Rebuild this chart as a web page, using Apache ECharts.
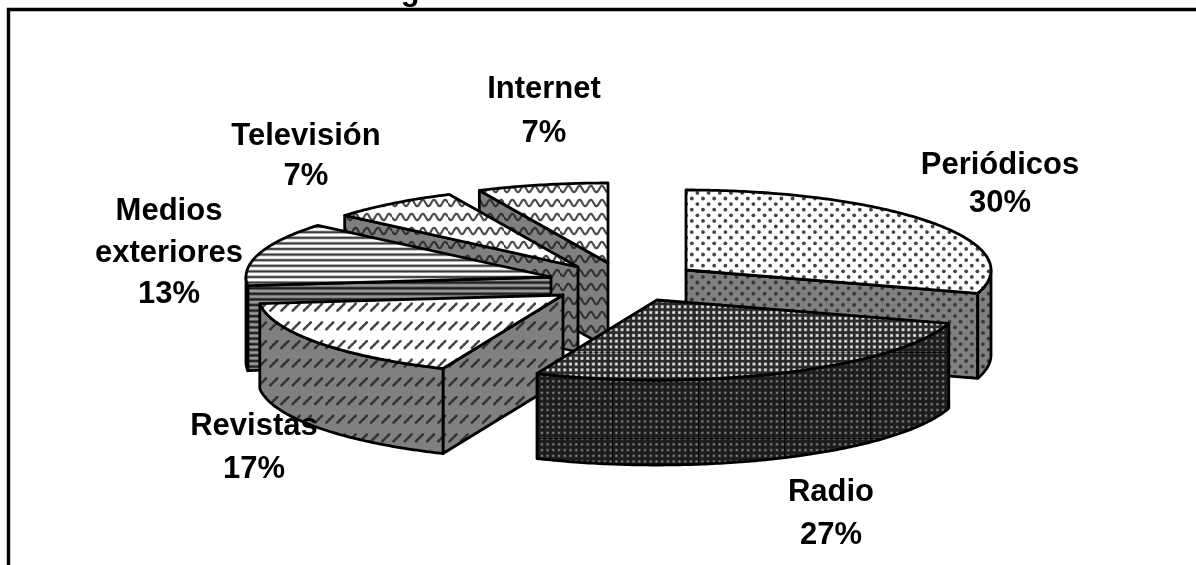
<!DOCTYPE html>
<html>
<head>
<meta charset="utf-8">
<style>html,body{margin:0;padding:0;background:#fff}#chart{width:1196px;height:565px}</style>
<script src="https://cdn.jsdelivr.net/npm/echarts@6/dist/echarts.min.js"></script>
</head>
<body>
<div id="chart"></div>
<script>
// Media shares, clockwise from twelve o'clock
const categories = ['Periódicos', 'Radio', 'Revistas', 'Medios exteriores', 'Televisión', 'Internet'];
const shares = [30, 27, 17, 13, 7, 7];

// Label text for each slice, with its own line breaks
const labelNames = ['Periódicos', 'Radio', 'Revistas', 'Medios\nexteriores', 'Televisión', 'Internet'];

// Exploded position of each slice's apex on the top surface
const apexes = [[686, 270], [657, 300], [563, 295], [551, 277], [578, 267], [608, 263]];
const labelSpots = [
  { x: 1000, y: 184, lh: 38 }, { x: 831, y: 514, lh: 43 }, { x: 254, y: 448, lh: 43 },
  { x: 169, y: 253, lh: 41.5 }, { x: 306, y: 156, lh: 40 }, { x: 544, y: 111, lh: 44 }
];
// Slices are painted from the back of the pie to the front
const paintOrder = [5, 4, 3, 0, 2, 1];
const RX = 305, RY = 80, DEPTH = 85;

function tile(w, h, paint) {
  const c = document.createElement('canvas');
  c.width = w; c.height = h;
  paint(c.getContext('2d'), w, h);
  return { image: c, repeat: 'repeat' };
}
function dots(bg, fg) {
  return tile(56, 56, (g) => {
    g.fillStyle = bg; g.fillRect(0, 0, 56, 56);
    g.fillStyle = fg;
    for (let r = 0; r < 10; r++) for (let k = 0; k < 5; k++) {
      g.beginPath();
      g.arc(((k + (r % 2) / 2) * 11.2 + 3) % 56, r * 5.6 + 2.5, 1.9, 0, 7);
      g.fill();
    }
  });
}
function waves(bg, fg) {
  return tile(56, 56, (g) => {
    g.fillStyle = bg; g.fillRect(0, 0, 56, 56);
    g.strokeStyle = fg; g.lineWidth = 2.2;
    for (let r = 0; r < 4; r++) {
      g.beginPath();
      for (let x = 0; x <= 56; x += 0.5) {
        const y = r * 14 + 7 + 3.2 * Math.sin(x / 11.2 * 2 * Math.PI);
        x ? g.lineTo(x, y) : g.moveTo(x, y);
      }
      g.stroke();
    }
  });
}
function stripes(light, mid, dark) {
  return tile(8, 56, (g) => {
    g.fillStyle = light; g.fillRect(0, 0, 8, 56);
    for (let r = 0; r < 10; r++) {
      g.fillStyle = mid; g.fillRect(0, r * 5.6 + 0.9, 8, 3.4);
      g.fillStyle = dark; g.fillRect(0, r * 5.6 + 1.7, 8, 1.8);
    }
  });
}
function dashes(bg, fg) {
  return tile(56, 56, (g) => {
    g.fillStyle = bg; g.fillRect(0, 0, 56, 56);
    g.strokeStyle = fg; g.lineWidth = 2.6; g.lineCap = 'round';
    g.setLineDash([2.2, 1.6]);
    for (let r = 0; r < 3; r++) for (let k = 0; k < 5; k++) {
      const x = k * 11.2 + 1.5, y = r * 18.67 + 12;
      g.beginPath(); g.moveTo(x, y); g.lineTo(x + 7.5, y - 7.5); g.stroke();
    }
  });
}
function mesh(bg, hole, core, seamX, seamY, seamAlpha) {
  return tile(86, 86, (g) => {
    const p = 86 / 15;
    g.fillStyle = bg; g.fillRect(0, 0, 86, 86);
    for (let i = 0; i < 15; i++) for (let j = 0; j < 15; j++) {
      g.fillStyle = hole; g.fillRect(i * p + 1.3, j * p + 1.3, 3.2, 3.2);
      g.fillStyle = core; g.fillRect(i * p + 2.1, j * p + 2.1, 1.6, 1.6);
    }
    g.globalAlpha = seamAlpha;
    g.fillStyle = '#000';
    g.fillRect(seamX, 0, 1, 86);
    g.fillRect(0, seamY, 86, 1);
  });
}
// Top and side fill of each slice
const fills = [
  { top: dots('#fff', '#444'), side: dots('#808080', '#383838') },
  { top: mesh('#2a2a2a', '#a8a8a8', '#f4f4f4', 7, 8, 0.45), side: mesh('#1c1c1c', '#3d3d3d', '#8c8c8c', 10, 8, 0.8) },
  { top: dashes('#fff', '#444'), side: dashes('#808080', '#333') },
  { top: stripes('#fff', '#b4b4b4', '#3c3c3c'), side: stripes('#9a9a9a', '#5c5c5c', '#202020') },
  { top: waves('#fff', '#4c4c4c'), side: waves('#808080', '#333') },
  { top: waves('#fff', '#4c4c4c'), side: waves('#808080', '#333') }
];

const total = shares.reduce((a, b) => a + b, 0);
const angleAt = (i) => shares.slice(0, i).reduce((a, b) => a + b, 0) / total * 2 * Math.PI;

function rim(c, a) { return [c[0] + RX * Math.sin(a), c[1] - RY * Math.cos(a)]; }
function arcPoints(c, a0, a1) {
  const pts = [], n = Math.max(2, Math.ceil((a1 - a0) / 0.012));
  for (let k = 0; k <= n; k++) pts.push(rim(c, a0 + (a1 - a0) * k / n));
  return pts;
}
const drop = (pts) => pts.map((p) => [p[0], p[1] + DEPTH]);

function face(points, fill) {
  return { type: 'polygon', silent: true, shape: { points },
    style: { fill, stroke: '#000', lineWidth: 2.8, lineJoin: 'round' } };
}

// Builds the cut faces, outer wall and top of one extruded slice
function renderSlice(params, api) {
  const i = api.value(0);
  const c = apexes[i], a0 = angleAt(i), a1 = a0 + api.value(1) / total * 2 * Math.PI;
  const f = fills[i], children = [];
  const PI = Math.PI;
  const cut = (a) => {
    const e = rim(c, a);
    return face([c, e, [e[0], e[1] + DEPTH], [c[0], c[1] + DEPTH]], f.side);
  };
  if (a0 > PI) children.push(cut(a0));
  if (a1 < PI) children.push(cut(a1));
  const wallFrom = Math.max(a0, PI / 2), wallTo = Math.min(a1, 1.5 * PI);
  if (wallTo > wallFrom) {
    const arc = arcPoints(c, wallFrom, wallTo);
    children.push(face(arc.concat(drop(arc).reverse()), f.side));
  }
  children.push(face([c].concat(arcPoints(c, a0, a1)), f.top));
  return { type: 'group', children };
}

function renderLabel(params, api) {
  const i = api.value(0), s = labelSpots[i];
  return {
    type: 'text', silent: true, z2: 100,
    style: {
      x: s.x, y: s.y, text: labelNames[i] + '\n' + api.value(1) + '%',
      align: 'center', verticalAlign: 'middle', lineHeight: s.lh,
      font: 'bold 31px "Liberation Sans", Arial, sans-serif', fill: '#000'
    }
  };
}

const sliceData = paintOrder.map((i) => ({ name: categories[i], value: [i, shares[i]] }));

const chart = echarts.init(document.getElementById('chart'), null, { renderer: 'canvas' });
chart.setOption({
  animation: false,
  backgroundColor: '#fff',
  title: {
    text: 'Según la edad de los usuarios',
    left: 581, top: -29, textAlign: 'center',
    textStyle: { color: '#000', fontFamily: '"Liberation Sans", Arial, sans-serif', fontWeight: 'bold', fontSize: 31 }
  },
  graphic: [{
    type: 'polyline', silent: true,
    shape: { points: [[8.5, 565], [8.5, 9.5], [1196, 9.5]] },
    style: { stroke: '#000', lineWidth: 3.4, fill: null }
  }],
  series: [
    { type: 'custom', coordinateSystem: 'none', renderItem: renderSlice, data: sliceData, clip: false, z: 2 },
    { type: 'custom', coordinateSystem: 'none', renderItem: renderLabel, data: sliceData, clip: false, z: 3 }
  ]
});
</script>
</body>
</html>
